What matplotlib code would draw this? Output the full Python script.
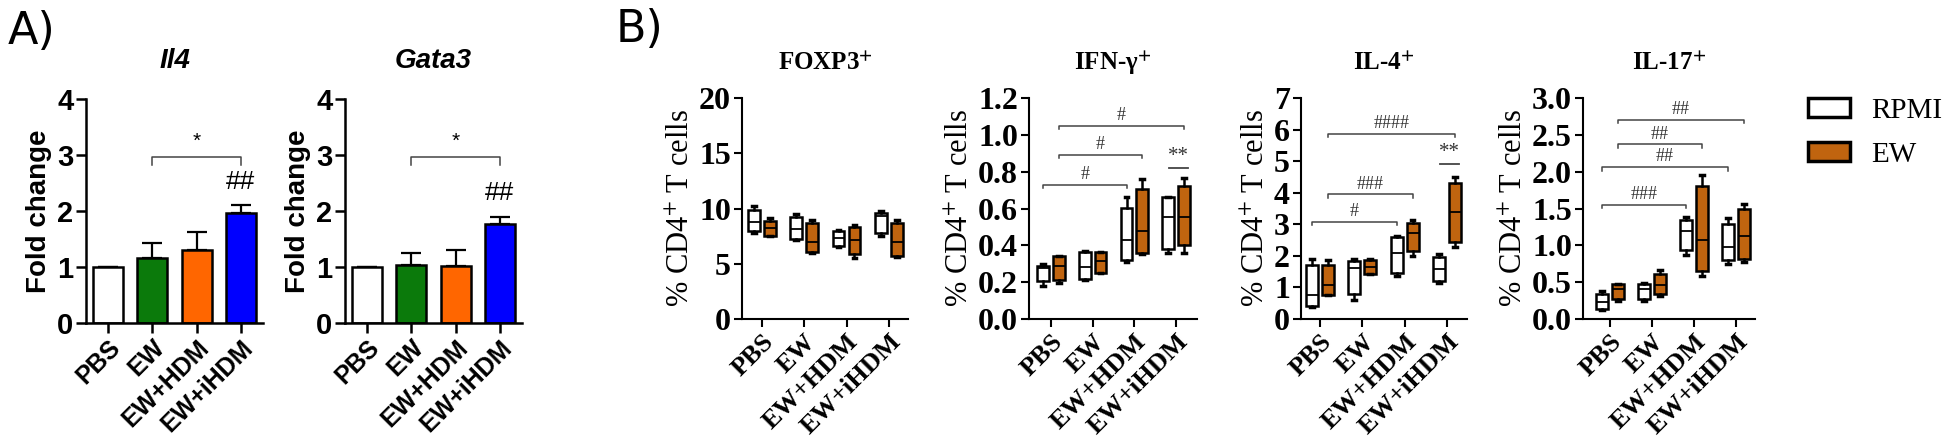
import numpy as np
import matplotlib.pyplot as plt
from matplotlib.patches import Patch

plt.rcParams['mathtext.fontset'] = 'stix'

# ---- data ----
groups = ['PBS', 'EW', 'EW+HDM', 'EW+iHDM']

# panel A: mean fold change and upper error
il4_mean = [1.0, 1.16, 1.31, 1.97]
il4_err = [0.0, 0.27, 0.31, 0.13]
gata3_mean = [1.0, 1.04, 1.02, 1.77]
gata3_err = [0.0, 0.21, 0.29, 0.13]
bar_colors = ['white', '#0b7a0b', '#ff6600', '#0000ff']

# panel B: box stats per group (min, q1, median, q3, max)
foxp3_rpmi = [[7.8, 7.95, 8.75, 9.9, 10.2], [7.15, 7.25, 8.15, 9.26, 9.5],
              [6.55, 6.65, 7.37, 7.97, 8.06], [7.5, 7.82, 9.35, 9.62, 9.8]]
foxp3_ew = [[7.5, 7.55, 8.2, 8.9, 9.1], [6.0, 6.05, 7.0, 8.66, 9.0],
            [5.56, 5.9, 7.16, 8.3, 8.54], [5.6, 5.7, 6.95, 8.66, 8.96]]
ifng_rpmi = [[0.18, 0.204, 0.276, 0.29, 0.3], [0.213, 0.217, 0.28, 0.366, 0.37],
             [0.307, 0.32, 0.43, 0.605, 0.66], [0.357, 0.381, 0.552, 0.66, 0.662]]
ifng_ew = [[0.195, 0.21, 0.29, 0.34, 0.343], [0.25, 0.25, 0.316, 0.363, 0.365],
           [0.352, 0.361, 0.48, 0.706, 0.758], [0.357, 0.4, 0.554, 0.722, 0.765]]
il4_rpmi = [[0.38, 0.4, 0.77, 1.72, 1.9], [0.59, 0.79, 1.61, 1.84, 1.9],
            [1.35, 1.45, 2.1, 2.61, 2.63], [1.14, 1.21, 1.58, 1.96, 2.05]]
il4_ew = [[0.77, 0.77, 1.08, 1.72, 1.87], [1.42, 1.43, 1.66, 1.87, 1.9],
          [2.0, 2.14, 2.72, 3.03, 3.14], [2.27, 2.43, 3.4, 4.32, 4.5]]
il17_rpmi = [[0.117, 0.135, 0.23, 0.34, 0.374], [0.24, 0.275, 0.406, 0.474, 0.487],
             [0.87, 0.93, 1.19, 1.34, 1.39], [0.74, 0.8, 0.98, 1.29, 1.37]]
il17_ew = [[0.24, 0.27, 0.406, 0.474, 0.478], [0.31, 0.34, 0.465, 0.61, 0.66],
           [0.58, 0.65, 1.07, 1.8, 1.96], [0.77, 0.81, 1.12, 1.49, 1.56]]

# significance: (group1, cond1, group2, cond2, height, label); cond 0 = RPMI, 1 = EW
ifng_sig = [(0, 0, 2, 0, 0.727, '#'), (0, 1, 2, 1, 0.893, '#'), (0, 1, 3, 1, 1.049, '#')]
il4_sig = [(0, 0, 2, 0, 3.08, '#'), (0, 1, 2, 1, 3.95, '###'), (0, 1, 3, 1, 5.87, '####')]
il17_sig = [(0, 0, 2, 0, 1.55, '###'), (0, 0, 3, 0, 2.06, '##'),
            (0, 1, 2, 1, 2.37, '##'), (0, 1, 3, 1, 2.7, '##')]
ifng_star = 0.82
il4_star = 4.9

W, H = 1949, 442
fig = plt.figure(figsize=(W / 100, H / 100), dpi=100)


def px_axes(left, right, bottom, top):
    return fig.add_axes([left / W, 1 - bottom / H, (right - left) / W, (bottom - top) / H])


# ---- panel A ----
sans = 'Liberation Sans'
for left, title, means, errs in [(86, 'Il4', il4_mean, il4_err),
                                 (345, 'Gata3', gata3_mean, gata3_err)]:
    ax = px_axes(left, left + 177, 323, 99)
    x = np.arange(len(groups))
    ax.bar(x, means, width=0.68, color=bar_colors, edgecolor='black', linewidth=1.8, zorder=2)
    ax.errorbar(x, means, yerr=[np.zeros(4), errs], fmt='none', ecolor='black',
                elinewidth=1.6, capsize=7, capthick=1.6, zorder=1)
    ax.set_xlim(-0.5, 3.5)
    ax.set_ylim(0, 4)
    ax.set_yticks([0, 1, 2, 3, 4])
    ax.set_xticks(x)
    ax.set_xticklabels(groups, rotation=45, ha='right', rotation_mode='anchor',
                       fontsize=18, fontweight='bold', family=sans)
    for lab in ax.get_yticklabels():
        lab.set_fontsize(21)
        lab.set_fontweight('bold')
        lab.set_family(sans)
    ax.tick_params(width=1.8, length=7, pad=2)
    for s in ['top', 'right']:
        ax.spines[s].set_visible(False)
    for s in ['left', 'bottom']:
        ax.spines[s].set_linewidth(1.8)
    ax.set_ylabel('Fold change', fontsize=20, fontweight='bold', family=sans, labelpad=4)
    ax.text(0.5, 1.17, title, transform=ax.transAxes, ha='center', va='center',
            fontsize=20, fontweight='bold', style='italic', family=sans)
    ax.plot([1, 1, 3, 3], [2.82, 2.97, 2.97, 2.82], color='#444444', lw=1.1)
    ax.text(2, 3.08, '*', ha='center', va='bottom', fontsize=15, family=sans)
    ax.text(3, means[3] + errs[3] + 0.2, '##', ha='center', va='bottom', fontsize=19, family=sans)

fig.text(8 / W, 1 - 31 / H, 'A)', fontsize=32, va='center', ha='left', family='DejaVu Sans')
fig.text(616 / W, 1 - 29 / H, 'B)', fontsize=32, va='center', ha='left', family='DejaVu Sans')

# ---- panel B ----
serif = 'Liberation Serif'
orange = '#c0640f'
offs = [-0.19, 0.185]
panels = [
    (742, 908, (-0.47, 3.45), r'FOXP3$^{\mathbf{+}}$', foxp3_rpmi, foxp3_ew, 20, 5, '{:.0f}', [], None),
    (1029, 1197, (-0.53, 3.5), r'IFN-γ$^{\mathbf{+}}$', ifng_rpmi, ifng_ew, 1.2, 0.2, '{:.1f}', ifng_sig, ifng_star),
    (1301, 1467, (-0.45, 3.47), r'IL-4$^{\mathbf{+}}$', il4_rpmi, il4_ew, 7, 1, '{:.0f}', il4_sig, il4_star),
    (1583, 1755, (-0.64, 3.45), r'IL-17$^{\mathbf{+}}$', il17_rpmi, il17_ew, 3.0, 0.5, '{:.1f}', il17_sig, None),
]

for left, right, xlim, title, rpmi, ew, top, step, fmt, sig, star in panels:
    ax = px_axes(left, right, 319, 98)
    x = np.arange(len(groups))
    for data, off, fc in [(rpmi, offs[0], 'white'), (ew, offs[1], orange)]:
        stats = [dict(whislo=a, q1=b, med=c, q3=d, whishi=e, fliers=[]) for a, b, c, d, e in data]
        ax.bxp(stats, positions=x + off, widths=0.28, patch_artist=True, showfliers=False,
               manage_ticks=False, capwidths=0.09,
               boxprops=dict(facecolor=fc, edgecolor='black', linewidth=1.8),
               medianprops=dict(color='black', linewidth=1.3),
               whiskerprops=dict(color='black', linewidth=1.8),
               capprops=dict(color='black', linewidth=2.5))
    ax.set_xlim(*xlim)
    ax.set_ylim(0, top)
    yt = np.arange(0, top + step / 2, step)
    ax.set_yticks(yt)
    ax.set_yticklabels([fmt.format(v) for v in yt], fontsize=23, fontweight='bold', family=serif)
    ax.set_xticks(x)
    ax.set_xticklabels(groups, rotation=45, ha='right', rotation_mode='anchor',
                       fontsize=19, fontweight='bold', family=serif)
    ax.tick_params(width=1.5, length=6, pad=2)
    for s in ['top', 'right']:
        ax.spines[s].set_visible(False)
    for s in ['left', 'bottom']:
        ax.spines[s].set_linewidth(1.5)
    ax.set_ylabel('% CD4$^{+}$ T cells', fontsize=22, family=serif, labelpad=2)
    ax.text(0.5, 1.158, title, transform=ax.transAxes, ha='center', va='center',
            fontsize=18, fontweight='bold', family=serif)
    d = top * 0.015
    for g1, c1, g2, c2, y, lab in sig:
        x1, x2 = g1 + offs[c1], g2 + offs[c2]
        ax.plot([x1, x1, x2, x2], [y - d, y, y, y - d], color='#444444', lw=1.1, clip_on=False)
        ax.text((x1 + x2) / 2, y + top * 0.008, lab, ha='center', va='bottom',
                fontsize=13, family=serif, color='#333333')
    if star is not None:
        ax.plot([2.84, 3.28], [star, star], color='#444444', lw=1.3)
        ax.text(3.06, star + top * 0.01, '**', ha='center', va='bottom', fontsize=15,
                family=serif, color='#333333')

handles = [Patch(facecolor='white', edgecolor='black', linewidth=2.5, label='RPMI'),
           Patch(facecolor=orange, edgecolor='black', linewidth=2.5, label='EW')]
fig.legend(handles=handles, loc='upper left', bbox_to_anchor=(1808 / W, 1 - 98 / H),
           frameon=False, borderpad=0, borderaxespad=0, handlelength=1.45, handleheight=0.65,
           labelspacing=0.6, handletextpad=0.7, prop=dict(family=serif, size=21))

fig.savefig('out.png', dpi=100)
